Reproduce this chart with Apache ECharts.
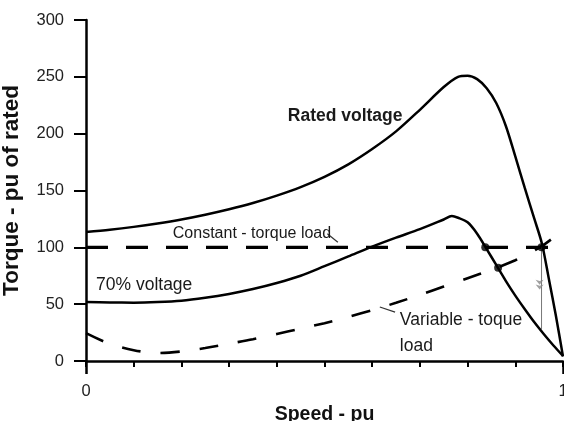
<!DOCTYPE html>
<html>
<head>
<meta charset="utf-8">
<script src="https://cdn.jsdelivr.net/npm/echarts@6/dist/echarts.min.js"></script>
<style>
html,body{margin:0;padding:0;background:#fff;}
#c{width:564px;height:421px;}
</style>
</head>
<body>
<div id="c"></div>
<script>
// ---- data ----
const ratedX = [0, 0.05, 0.1, 0.15, 0.2, 0.25, 0.3, 0.35, 0.4, 0.45, 0.5, 0.55, 0.6, 0.65, 0.7, 0.75, 0.78, 0.8, 0.82, 0.84, 0.86, 0.88, 0.9, 0.92, 0.94, 0.956, 0.97, 0.985, 1.0];
const ratedY = [113.5, 115.5, 118, 121, 124.5, 128.7, 133.5, 139, 145.5, 153, 162, 173, 186.5, 202, 221, 241, 250, 251, 248, 240, 227, 207, 180, 152, 125, 103, 73, 40, 4];

const v70X = [0, 0.05, 0.1, 0.15, 0.2, 0.25, 0.3, 0.35, 0.4, 0.45, 0.5, 0.55, 0.6, 0.65, 0.7, 0.75, 0.767, 0.78, 0.8, 0.82, 0.84, 0.86, 0.88, 0.9, 0.92, 0.94, 0.96, 0.98, 1.0];
const v70Y = [52, 51.5, 51.3, 51.8, 53, 55.6, 59, 63.3, 68.6, 75, 83.4, 92, 100.7, 108.6, 116, 124.5, 127.5, 126, 122, 112, 98.5, 84.5, 70.5, 57.5, 45.5, 34, 23.5, 13.6, 4.4];

const varX = [0, 0.05, 0.1, 0.15, 0.2, 0.25, 0.3, 0.35, 0.4, 0.45, 0.5, 0.55, 0.6, 0.65, 0.7, 0.75, 0.8, 0.85, 0.9, 0.955, 1.0];
const varY = [24.5, 15, 9.5, 7, 8.4, 11.4, 15.2, 19.2, 23.8, 28.5, 33.3, 38.8, 44.8, 51.2, 58.2, 65.5, 72.8, 80.3, 88.6, 101, 115];

const constX = [0, 1];
const constY = [100, 100];

const dotX = [0.837, 0.955, 0.864];
const dotY = [100, 100, 82];

const yTicks = [0, 50, 100, 150, 200, 250, 300];
const xLabelTicks = [0, 1];

const labelTexts = ['Rated voltage', 'Constant - torque load', '70% voltage', 'Variable - toque\nload'];
const labelX = [0.423, 0.182, 0.021, 0.658];
const labelY = [215.5, 111.7, 66.4, 36];

const zip = (a, b) => a.map((v, i) => [v, b[i]]);
const FONT = 'Liberation Sans, Arial, sans-serif';

const chart = echarts.init(document.getElementById('c'), null, {renderer: 'canvas'});

const curve = {type: 'line', symbol: 'none', smooth: 0.3};

const option = {
  animation: false,
  backgroundColor: '#fff',
  grid: {left: 86, right: 1, top: 20, bottom: 60, containLabel: false, outerBoundsMode: 'none'},
  xAxis: [{
    type: 'value', min: 0, max: 1, interval: 0.1,
    axisLine: {show: true, onZero: false, lineStyle: {color: '#000', width: 2.5}},
    axisTick: {show: true, length: 6, lineStyle: {color: '#000', width: 2}},
    splitLine: {show: false},
    axisLabel: {
      fontSize: 16.5, color: '#222', fontFamily: FONT, margin: 22,
      formatter: v => (xLabelTicks.some(t => Math.abs(t - v) < 1e-6) ? String(Math.round(v)) : '')
    },
    name: 'Speed - pu', nameLocation: 'middle', nameGap: 37,
    nameTextStyle: {fontWeight: 'bold', fontSize: 19.5, color: '#111', fontFamily: FONT}
  }, {
    type: 'value', min: 0, max: 1, interval: 1, position: 'bottom',
    axisLine: {show: false}, axisLabel: {show: false}, splitLine: {show: false},
    axisTick: {show: true, length: 13, lineStyle: {color: '#000', width: 2.5}}
  }],
  yAxis: {
    type: 'value', min: yTicks[0], max: yTicks[yTicks.length - 1], interval: 50,
    axisLine: {show: true, onZero: false, lineStyle: {color: '#000', width: 2.5}},
    axisTick: {show: true, length: 12, lineStyle: {color: '#000', width: 2}},
    splitLine: {show: false},
    axisLabel: {fontSize: 16.5, color: '#222', fontFamily: FONT, margin: 22},
    name: 'Torque - pu of rated', nameLocation: 'middle', nameGap: 63,
    nameTextStyle: {fontWeight: 'bold', fontSize: 22.5, color: '#111', fontFamily: FONT}
  },
  series: [
    Object.assign({}, curve, {data: zip(ratedX, ratedY), lineStyle: {color: '#000', width: 2.5}}),
    Object.assign({}, curve, {data: zip(v70X, v70Y), lineStyle: {color: '#000', width: 2.5}}),
    {type: 'line', data: zip(constX, constY), symbol: 'none',
     lineStyle: {color: '#000', width: 3.2, type: [22, 18], cap: 'butt'}},
    Object.assign({}, curve, {data: zip(varX, varY),
     lineStyle: {color: '#000', width: 2.6, type: [19, 20], cap: 'butt'}}),
    // annotation: vertical line below rated/constant intersection
    {type: 'line', data: [[0.955, 100], [0.955, 28]], symbol: 'none',
     lineStyle: {color: '#777', width: 1}},
    // leader lines
    {type: 'line', data: [[0.506, 112], [0.528, 104.5]], symbol: 'none',
     lineStyle: {color: '#333', width: 1.2}},
    {type: 'line', data: [[0.616, 47.5], [0.648, 43]], symbol: 'none',
     lineStyle: {color: '#333', width: 1.2}},
    // intersection dots
    {type: 'scatter', data: zip(dotX, dotY), symbol: 'circle', symbolSize: 8,
     itemStyle: {color: '#000'}, z: 5},
    // small arrows on vertical line
    {type: 'scatter', data: [[0.951, 67], [0.951, 63]], symbol: 'arrow', symbolSize: [6, 5],
     symbolRotate: 180, itemStyle: {color: '#888'}, z: 4}
  ]
};

chart.setOption(option);

const gtexts = labelTexts.map((t, i) => {
  const p = chart.convertToPixel({gridIndex: 0}, [labelX[i], labelY[i]]);
  const bold = i === 0;
  const size = i === 0 ? 17.5 : (i === 1 ? 16 : 17.5);
  return {
    type: 'text', x: p[0], y: p[1], z: 10,
    style: {
      text: t, fill: '#1a1a1a', font: (bold ? 'bold ' : '') + size + 'px ' + FONT,
      textAlign: 'left', textVerticalAlign: 'middle', lineHeight: 26
    }
  };
});
gtexts[3].style.textVerticalAlign = 'top';
gtexts[3].y -= 13;

chart.setOption({graphic: gtexts});
</script>
</body>
</html>
